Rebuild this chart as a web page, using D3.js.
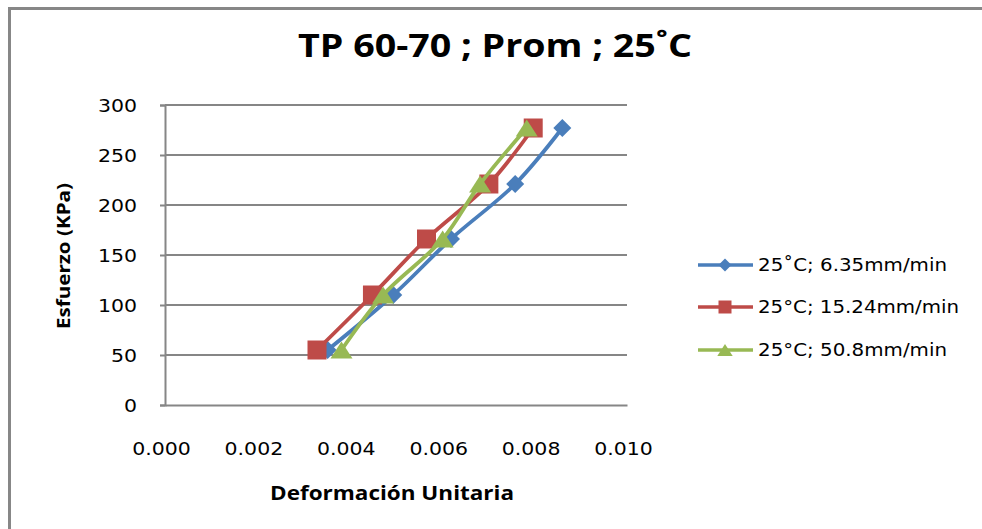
<!DOCTYPE html>
<html><head><meta charset="utf-8">
<script src="https://cdn.jsdelivr.net/npm/d3@7/dist/d3.min.js"></script>
<style>body{margin:0;background:#fff}svg{display:block}</style>
</head><body>
<svg id="chart" width="982" height="529"></svg>
<script>
// ---- data ----
const stressKPa = [55, 110, 166, 221, 277];
const strain635 = [0.00352, 0.00494, 0.00619, 0.00758, 0.00860];
const strain1524 = [0.00329, 0.00449, 0.00566, 0.00701, 0.00797];
const strain508 = [0.00382, 0.00472, 0.00601, 0.00682, 0.00783];
const seriesNames = ["25˚C; 6.35mm/min", "25°C; 15.24mm/min", "25°C; 50.8mm/min"];
const xTicks = [0, 0.002, 0.004, 0.006, 0.008, 0.010];
const yTicks = [0, 50, 100, 150, 200, 250, 300];
const titleText = "TP 60-70 ; Prom ; 25˚C";
const xTitle = "Deformación Unitaria";
const yTitle = "Esfuerzo (KPa)";

const series = [
  {name: seriesNames[0], xs: strain635, color: "#4A7EBB", shape: "diamond"},
  {name: seriesNames[1], xs: strain1524, color: "#BE4B48", shape: "square"},
  {name: seriesNames[2], xs: strain508, color: "#98B954", shape: "triangle"}
];

const svg = d3.select("#chart");
const grid = "#868686";
const x = d3.scaleLinear().domain([0, 0.010]).range([165, 627]);
const y = d3.scaleLinear().domain([0, 300]).range([405, 105]);

function stretch(sel, k) {
  sel.each(function() {
    const l = this.getComputedTextLength();
    d3.select(this).attr("textLength", l * k).attr("lengthAdjust", "spacingAndGlyphs");
  });
}
function fitTo(sel, w) {
  sel.attr("textLength", w).attr("lengthAdjust", "spacingAndGlyphs");
}

// outer frame
svg.append("rect").attr("x", 9.5).attr("y", 8.5).attr("width", 1000).attr("height", 600)
  .attr("fill", "#fff").attr("stroke", "#878787").attr("stroke-width", 3);

// y axis + grid
const yAxis = d3.axisLeft(y).tickValues(yTicks).tickSize(5).tickFormat(d3.format("d"));
const gy = svg.append("g").attr("transform", "translate(165,0)").call(yAxis);
gy.select(".domain").attr("stroke", grid).attr("stroke-width", 2);
gy.selectAll(".tick line").attr("stroke", grid).attr("stroke-width", 2);
gy.selectAll(".tick text").attr("x", -28).attr("dy", "0.35em")
  .attr("font-family", "DejaVu Sans").attr("font-size", 17.5).attr("fill", "#000");
stretch(gy.selectAll(".tick text"), 1.17);

svg.append("g").selectAll("line").data(yTicks.filter(d => d > 0)).join("line")
  .attr("x1", 165).attr("x2", 627).attr("y1", d => y(d)).attr("y2", d => y(d))
  .attr("stroke", grid).attr("stroke-width", 1.8);

// x axis
const xAxis = d3.axisBottom(x).tickValues(xTicks).tickSize(0).tickFormat(d3.format(".3f"));
const gx = svg.append("g").attr("transform", "translate(0,405)").call(xAxis);
gx.select(".domain").attr("stroke", grid).attr("stroke-width", 2);
gx.selectAll(".tick text").attr("x", -4).attr("y", 50).attr("dy", 0)
  .attr("font-family", "DejaVu Sans").attr("font-size", 17.5).attr("fill", "#000");
stretch(gx.selectAll(".tick text"), 1.17);

// lines and markers
const line = d3.line().x(d => x(d[0])).y(d => y(d[1])).curve(d3.curveCatmullRom.alpha(0.5));
function markerPath(shape, s) {
  if (shape === "diamond") return `M0,${-s}L${s},0L0,${s}L${-s},0Z`;
  if (shape === "square") return `M${-s},${-s}H${s}V${s}H${-s}Z`;
  const h = s * 0.85;
  return `M0,${-h}L${s * 1.1},${h}L${-s * 1.1},${h}Z`;
}
const markerSize = {diamond: 9, square: 9.5, triangle: 10};
series.forEach(s => {
  const pts = s.xs.map((v, i) => [v, stressKPa[i]]);
  const g = svg.append("g");
  g.append("path").datum(pts).attr("d", line).attr("fill", "none")
    .attr("stroke", s.color).attr("stroke-width", 3.8).attr("stroke-linejoin", "round");
  g.selectAll("path.m").data(pts).join("path").attr("class", "m")
    .attr("transform", d => `translate(${x(d[0])},${y(d[1])})`)
    .attr("d", markerPath(s.shape, markerSize[s.shape])).attr("fill", s.color);
});

// title
const t = svg.append("text").attr("x", 495).attr("y", 57).attr("text-anchor", "middle")
  .attr("font-family", "Open Sans").attr("font-weight", "bold").attr("font-size", 33)
  .attr("fill", "#000").text(titleText);
fitTo(t, 394);

// axis titles
const xt = svg.append("text").attr("x", 392).attr("y", 500).attr("text-anchor", "middle")
  .attr("font-family", "Open Sans").attr("font-weight", "bold").attr("font-size", 19)
  .attr("fill", "#000").text(xTitle);
fitTo(xt, 244);
const yt = svg.append("text").attr("transform", "translate(70,256) rotate(-90)")
  .attr("text-anchor", "middle").attr("font-family", "Open Sans").attr("font-weight", "bold")
  .attr("font-size", 18).attr("fill", "#000").text(yTitle);
fitTo(yt, 146);

// legend
const legY = [265, 307, 350];
const legW = [189, 201, 189];
const legendSize = {diamond: 6.5, square: 6.5, triangle: 7};
series.forEach((s, i) => {
  const g = svg.append("g").attr("transform", `translate(0,${legY[i]})`);
  g.append("line").attr("x1", 698).attr("x2", 753).attr("y1", 0).attr("y2", 0)
    .attr("stroke", s.color).attr("stroke-width", 3.5);
  g.append("path").attr("transform", "translate(725,0)")
    .attr("d", markerPath(s.shape, legendSize[s.shape])).attr("fill", s.color);
  const tx = g.append("text").attr("x", 758).attr("y", 0).attr("dy", "0.36em")
    .attr("font-family", "DejaVu Sans").attr("font-size", 17).attr("fill", "#000").text(s.name);
  fitTo(tx, legW[i]);
});
</script>
</body></html>
